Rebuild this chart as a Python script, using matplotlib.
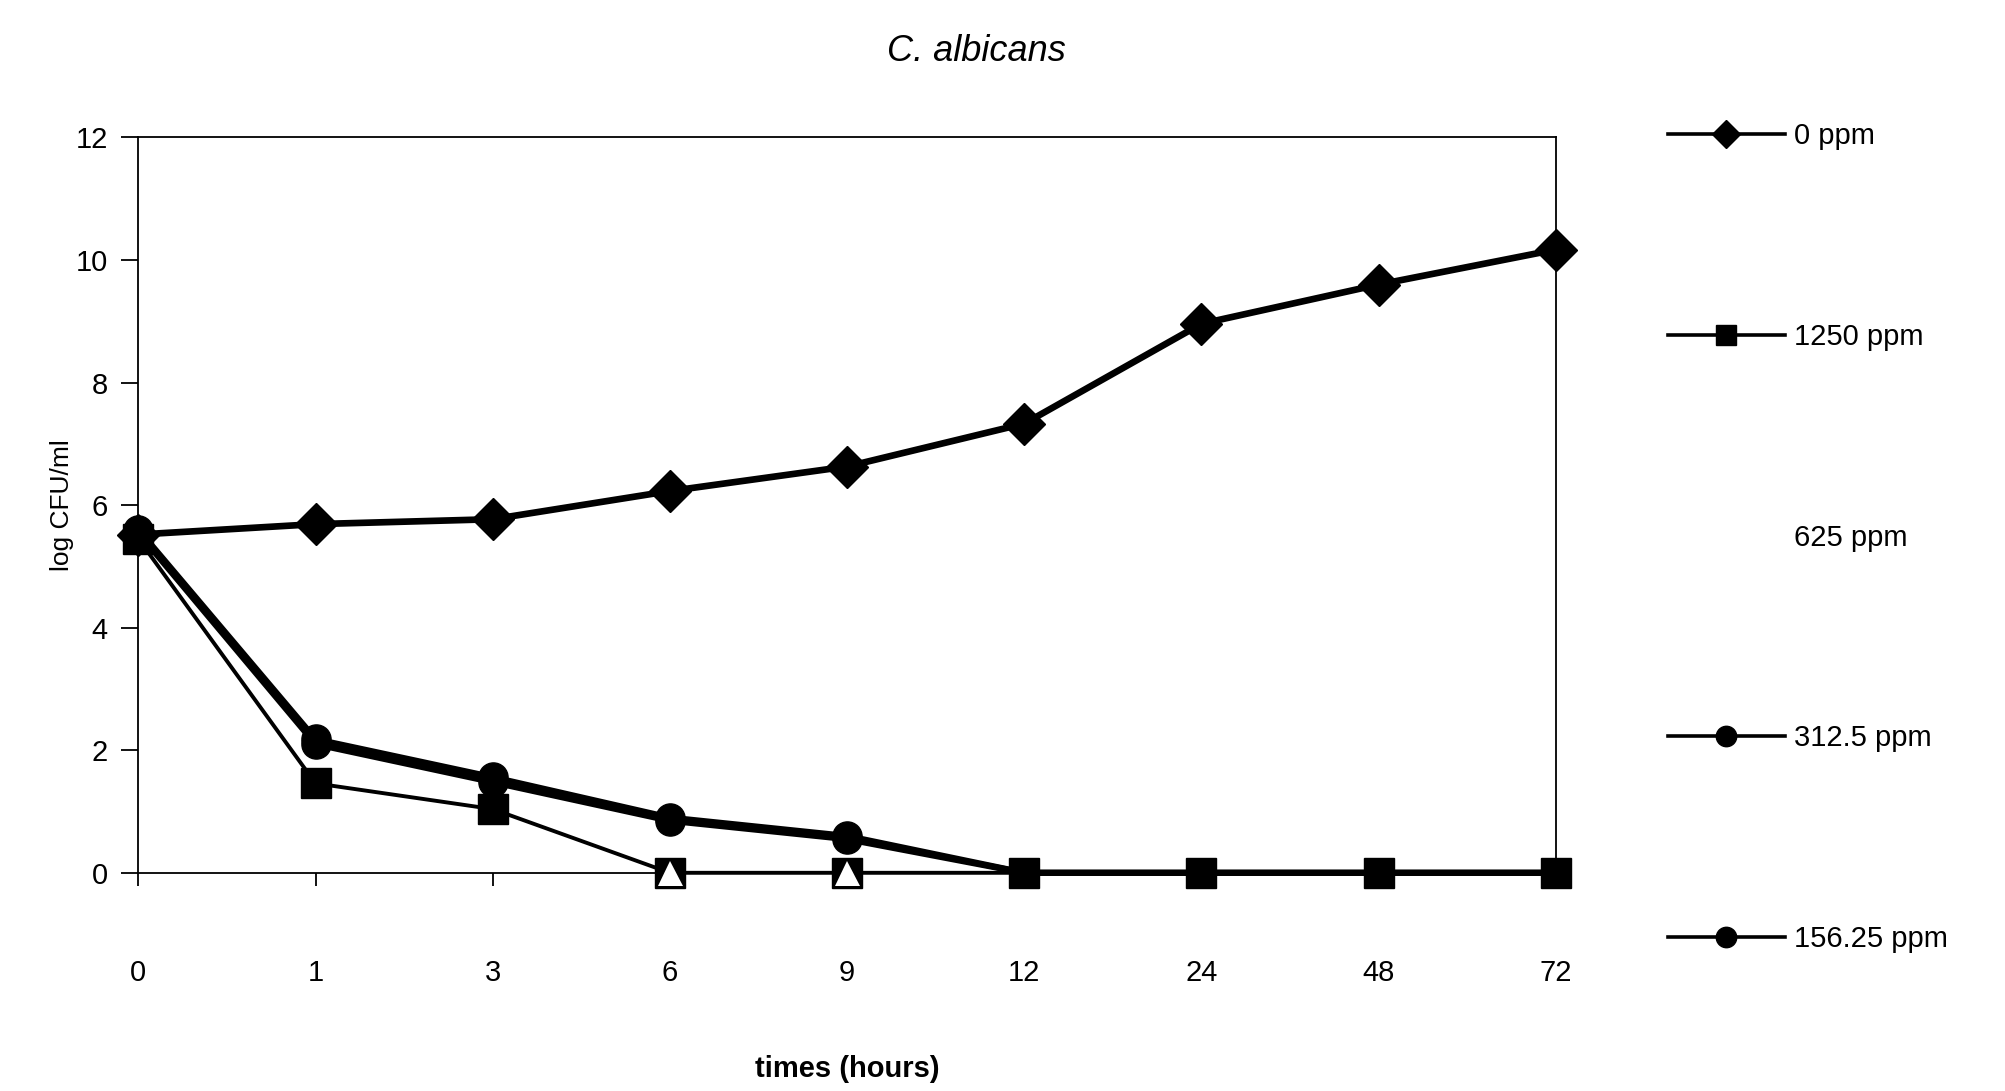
import numpy as np
import matplotlib
matplotlib.use("Agg")
import matplotlib.pyplot as plt

plt.rcParams['font.family'] = ['Liberation Sans', 'DejaVu Sans']

# sampling times (categorical axis)
times = ['0', '1', '3', '6', '9', '12', '24', '48', '72']

# log CFU/ml
ppm_0 = [5.52, 5.69, 5.77, 6.23, 6.63, 7.33, 8.96, 9.60, 10.17]
ppm_1250 = [5.45, 1.46, 1.04, 0.0, 0.0, 0.0, 0.0, 0.0, 0.0]
ppm_625 = [np.nan, np.nan, np.nan, 0.0, 0.0, np.nan, np.nan, np.nan, np.nan]
ppm_312 = [5.55, 2.10, 1.48, 0.85, 0.55, 0.0, 0.0, 0.0, 0.0]
ppm_156 = [5.60, 2.18, 1.56, 0.90, 0.60, 0.0, 0.0, 0.0, 0.0]

labels = ['0 ppm', '1250 ppm', '625 ppm', '312.5 ppm', '156.25 ppm']

fig = plt.figure(figsize=(20.05, 10.91), dpi=100)
ax = fig.add_axes([0.069, 0.200, 0.707, 0.674])

x = np.arange(len(times))

l0, = ax.plot(x, ppm_0, color='black', lw=4.8, marker='D', ms=21,
              clip_on=False, zorder=3, label=labels[0])
l3, = ax.plot(x, ppm_312, color='black', lw=4.5, marker='o', ms=21,
              clip_on=False, zorder=4, label=labels[3])
l4, = ax.plot(x, ppm_156, color='black', lw=4.5, marker='o', ms=21,
              clip_on=False, zorder=4, label=labels[4])
l1, = ax.plot(x, ppm_1250, color='black', lw=2.8, marker='s', ms=21,
              clip_on=False, zorder=5, label=labels[1])
l2, = ax.plot(x, ppm_625, color='white', lw=0, marker='^', ms=18,
              markeredgewidth=0, clip_on=False, zorder=6, label=labels[2])

ax.set_xlim(0, 8)
ax.set_ylim(0, 12)
ax.set_xticks(x)
ax.set_xticklabels(times)
ax.set_yticks(np.arange(0, 13, 2))

for s in ax.spines.values():
    s.set_linewidth(1.3)
ax.tick_params(axis='both', direction='out', width=1.3, labelsize=21)
ax.tick_params(axis='x', length=9, pad=53)
ax.tick_params(axis='y', length=12, pad=10)

ax.set_xlabel('times (hours)', fontsize=21, fontweight='bold', labelpad=49)
ax.set_ylabel('log CFU/ml', fontsize=19, labelpad=1)

fig.text(0.487, 0.953, 'C. albicans', fontsize=26, style='italic',
         ha='center', va='center')

leg = fig.legend(handles=[l0, l1, l2, l3, l4], loc='upper left',
                 bbox_to_anchor=(0.832, 0.888), frameon=False, fontsize=21,
                 handlelength=4.0, handletextpad=0.3, labelspacing=5.92,
                 markerscale=0.7, borderpad=0, borderaxespad=0)
# thinner lines in the legend keys, as in the original
for h in leg.get_lines():
    h.set_linewidth(2.6)

fig.savefig('out.png', dpi=100)
